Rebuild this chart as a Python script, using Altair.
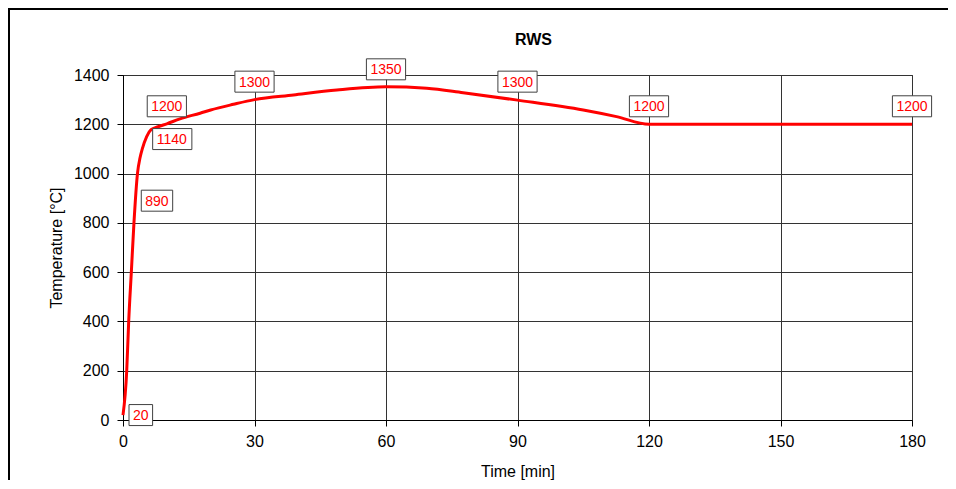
import altair as alt
import pandas as pd

# ---- data ----
curve_time = [0, 0.85, 1.3, 1.9, 2.5, 3.3, 3.9, 4.4, 5.4, 6.4, 8, 10, 13, 17.6, 20, 25.2, 30,
              38.9, 48.8, 60, 69.3, 77.6, 90, 105, 112.6, 120, 150, 180]
curve_temp = [20, 200, 400, 600, 800, 1000, 1065, 1100, 1150, 1178, 1190, 1202, 1222, 1245, 1258, 1281, 1300,
              1319, 1339, 1352, 1346, 1328, 1298, 1258, 1231, 1200, 1200, 1200]

right_time = [0, 2.8, 5.4]
right_temp = [20, 890, 1140]
top_time = [10, 30, 60, 90, 120, 180]
top_temp = [1200, 1300, 1350, 1300, 1200, 1200]

x_ticks = [0, 30, 60, 90, 120, 150, 180]
y_ticks = [0, 200, 400, 600, 800, 1000, 1200, 1400]

FONT = "Liberation Sans"
W, H = 789, 345
BOX_H = 21
DIGIT_W = 7.8
ABOVE = -18


def box_path(text, side):
    w = DIGIT_W * len(text) + 8
    if side == "right":
        x0, y0 = 6, -BOX_H / 2
    else:
        x0, y0 = -w / 2, ABOVE - BOX_H / 2
    return f"M{x0},{y0}h{w}v{BOX_H}h{-w}Z"


curve_df = pd.DataFrame({"time": curve_time, "temp": curve_temp})
right_df = pd.DataFrame({"time": right_time, "temp": right_temp})
right_df["label"] = right_df["temp"].astype(str)
right_df["box"] = right_df["label"].map(lambda s: box_path(s, "right"))
top_df = pd.DataFrame({"time": top_time, "temp": top_temp})
top_df["label"] = top_df["temp"].astype(str)
top_df["box"] = top_df["label"].map(lambda s: box_path(s, "top"))

xs = alt.Scale(domain=[0, 180], nice=False, zero=False)
ys = alt.Scale(domain=[0, 1400], nice=False)
x_axis = alt.Axis(values=x_ticks, title="Time [min]", format="d", tickSize=6, labelPadding=7,
                  titlePadding=14, grid=True, labelFlush=False)
y_axis = alt.Axis(values=y_ticks, title="Temperature [°C]", format="d", tickSize=6, labelPadding=8,
                  titlePadding=9, grid=True, labelFlush=False)
x_enc = alt.X("time:Q", scale=xs, axis=x_axis)
y_enc = alt.Y("temp:Q", scale=ys, axis=y_axis)

line = alt.Chart(curve_df).mark_line(color="#ff0000", strokeWidth=3, interpolate="monotone").encode(
    x=x_enc, y=y_enc)


def label_layers(df, side):
    boxes = alt.Chart(df).mark_point(filled=True, fill="white", stroke="#404040", strokeWidth=1,
                                     opacity=1, size=4).encode(
        x=x_enc, y=y_enc, shape=alt.Shape("box:N", scale=None))
    if side == "right":
        txt_mark = alt.Chart(df).mark_text(align="left", baseline="middle", dx=10, dy=1,
                                           font=FONT, fontSize=14, color="#ff0000")
    else:
        txt_mark = alt.Chart(df).mark_text(align="center", baseline="middle", dx=0, dy=ABOVE + 1,
                                           font=FONT, fontSize=14, color="#ff0000")
    txt = txt_mark.encode(x=x_enc, y=y_enc, text="label:N")
    return [boxes, txt]


frame_left = alt.Chart(curve_df).mark_rule(color="black", strokeWidth=2).encode(
    x=alt.value(-114), y=alt.value(-66), y2=alt.value(420))
frame_top = alt.Chart(curve_df).mark_rule(color="black", strokeWidth=2).encode(
    x=alt.value(-115), x2=alt.value(830), y=alt.value(-66))

chart = alt.layer(
    line, *label_layers(right_df, "right"), *label_layers(top_df, "top"), frame_left, frame_top
).properties(
    width=W, height=H,
    title=alt.TitleParams("RWS", anchor="middle", dx=16, offset=-53, baseline="alphabetic",
                          font=FONT, fontSize=16, fontWeight="bold", color="black"),
    autosize=alt.AutoSizeParams(type="none"),
    padding={"left": 115, "top": 67, "right": 36, "bottom": 60},
).configure_axis(
    labelFont=FONT, labelFontSize=16, labelColor="black",
    titleFont=FONT, titleFontSize=16, titleFontWeight="normal", titleColor="black",
    domainColor="black", tickColor="black", gridColor="#333333", gridOpacity=1, gridWidth=1,
).configure_view(stroke="#333333", strokeWidth=1)

chart.save("out.html", embed_options={"renderer": "svg", "actions": False})
